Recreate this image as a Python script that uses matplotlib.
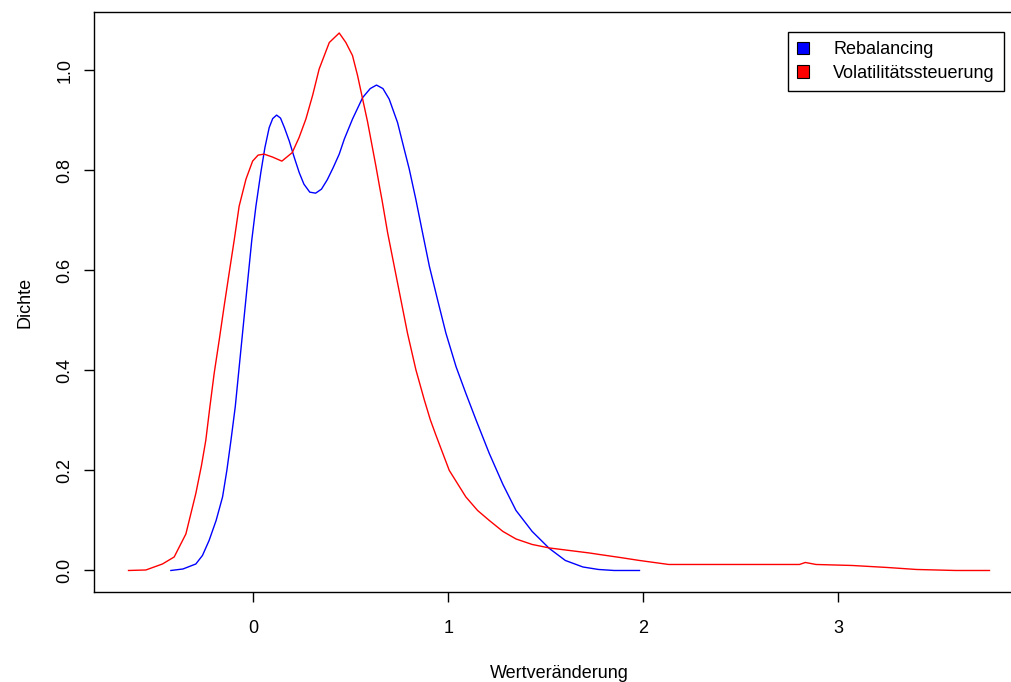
import matplotlib
matplotlib.use('Agg')
import matplotlib.pyplot as plt
from matplotlib.patches import Patch

plt.rcParams['font.family'] = ['Liberation Sans', 'DejaVu Sans']
plt.rcParams['font.size'] = 13

# ── Dichtekurven ─────────────────────────────────────────────
reb_x = [-0.422, -0.36, -0.294, -0.26, -0.226, -0.19, -0.157, -0.135, -0.114, -0.092,
         -0.075, -0.058, -0.041, -0.024, -0.007, 0.014, 0.039, 0.06, 0.082, 0.10,
         0.12, 0.14, 0.16, 0.185, 0.21, 0.236, 0.26, 0.29, 0.32, 0.35,
         0.38, 0.41, 0.441, 0.467, 0.509, 0.561, 0.60, 0.632, 0.665, 0.697,
         0.74, 0.774, 0.80, 0.834, 0.868, 0.903, 0.945, 0.988, 1.04, 1.09,
         1.142, 1.21, 1.28, 1.347, 1.43, 1.518, 1.60, 1.69, 1.77, 1.85, 1.98]
reb_y = [0.0, 0.003, 0.013, 0.03, 0.06, 0.10, 0.147, 0.20, 0.26, 0.327,
         0.394, 0.461, 0.528, 0.595, 0.661, 0.728, 0.795, 0.845, 0.885, 0.903,
         0.910, 0.904, 0.885, 0.858, 0.826, 0.795, 0.772, 0.756, 0.754, 0.762,
         0.781, 0.805, 0.832, 0.862, 0.902, 0.945, 0.963, 0.970, 0.963, 0.942,
         0.895, 0.842, 0.802, 0.741, 0.675, 0.608, 0.541, 0.474, 0.407, 0.354,
         0.301, 0.234, 0.172, 0.120, 0.078, 0.044, 0.020, 0.007, 0.002, 0.0, 0.0]

vol_x = [-0.639, -0.55, -0.465, -0.405, -0.345, -0.294, -0.265, -0.243, -0.222, -0.2,
         -0.174, -0.149, -0.123, -0.097, -0.072, -0.037, -0.003, 0.025, 0.056, 0.10,
         0.147, 0.20, 0.235, 0.27, 0.305, 0.338, 0.39, 0.441, 0.475, 0.509,
         0.535, 0.561, 0.586, 0.603, 0.629, 0.65, 0.66, 0.689, 0.723, 0.757,
         0.791, 0.834, 0.877, 0.908, 0.937, 1.005, 1.09, 1.15, 1.21, 1.28,
         1.347, 1.43, 1.518, 1.62, 1.723, 1.774, 1.88, 1.98, 2.13, 2.50,
         2.80, 2.83, 2.885, 3.07, 3.25, 3.40, 3.60, 3.774]
vol_y = [0.0, 0.001, 0.013, 0.027, 0.073, 0.154, 0.21, 0.26, 0.327, 0.394,
         0.461, 0.528, 0.595, 0.661, 0.728, 0.782, 0.818, 0.830, 0.832, 0.826,
         0.818, 0.835, 0.865, 0.902, 0.95, 1.002, 1.055, 1.074, 1.055, 1.029,
         0.989, 0.942, 0.897, 0.862, 0.808, 0.762, 0.741, 0.675, 0.608, 0.541,
         0.474, 0.401, 0.341, 0.301, 0.270, 0.200, 0.147, 0.120, 0.100, 0.078,
         0.063, 0.052, 0.045, 0.040, 0.035, 0.032, 0.026, 0.020, 0.012, 0.012,
         0.012, 0.016, 0.012, 0.010, 0.006, 0.002, 0.0, 0.0]

series_names = ['Rebalancing', 'Volatilitätssteuerung']
series_colors = ['#0000ff', '#ff0000']

x_ticks = [0, 1, 2, 3]
y_ticks = [0.0, 0.2, 0.4, 0.6, 0.8, 1.0]

fig = plt.figure(figsize=(10.11, 6.82), dpi=100)
ax = fig.add_axes([94 / 1011, 90 / 682, 930 / 1011, 580 / 682])

ax.plot(reb_x, reb_y, color=series_colors[0], linewidth=1.0)
ax.plot(vol_x, vol_y, color=series_colors[1], linewidth=1.0)

ax.set_xlim(-0.816, 3.951)
ax.set_ylim(-0.043, 1.116)
ax.set_xticks(x_ticks)
ax.set_xticklabels([str(t) for t in x_ticks])
ax.set_yticks(y_ticks)
ax.set_yticklabels([f'{t:.1f}' for t in y_ticks], rotation=90, va='center')
ax.tick_params(direction='out', length=7, width=1, labelsize=13)
ax.tick_params(axis='x', pad=13)
ax.tick_params(axis='y', pad=8)
for sp in ax.spines.values():
    sp.set_linewidth(1.0)

ax.set_xlabel('Wertveränderung', fontsize=13, labelpad=20)
ax.set_ylabel('Dichte', fontsize=13, labelpad=16)

handles = [Patch(facecolor=c, edgecolor='black', linewidth=0.8) for c in series_colors]
leg = ax.legend(handles, series_names, loc='upper right',
                bbox_to_anchor=(0.9785, 0.9655), borderaxespad=0,
                fancybox=False, framealpha=1, edgecolor='black',
                handlelength=0.67, handleheight=0.67, handletextpad=1.35,
                borderpad=0.5, labelspacing=0.38, fontsize=13)
leg.get_frame().set_linewidth(1.0)

fig.savefig('out.png', dpi=100, facecolor='white')
